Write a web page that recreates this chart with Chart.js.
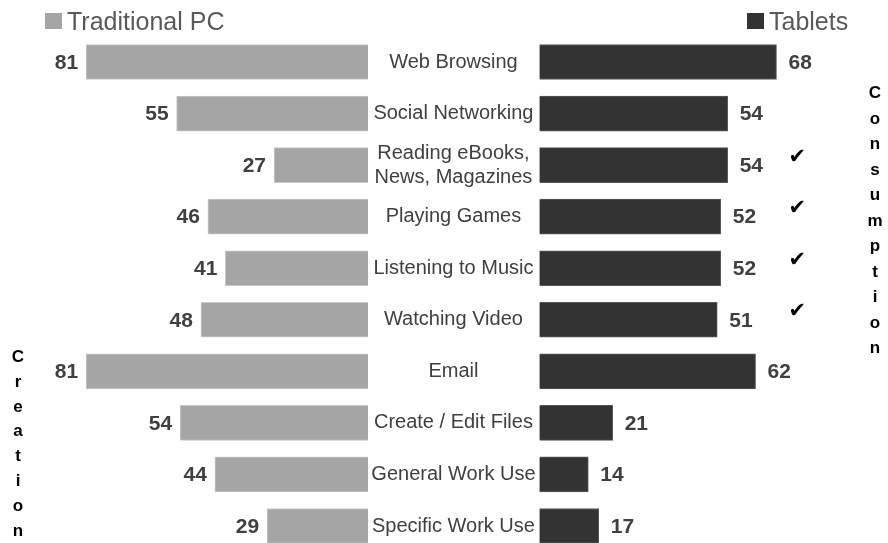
<!DOCTYPE html>
<html>
<head>
<meta charset="utf-8">
<title>Traditional PC vs Tablets</title>
<script src="https://cdn.jsdelivr.net/npm/chart.js@4/dist/chart.umd.min.js"></script>
<style>
  html, body { margin: 0; padding: 0; background: #ffffff; overflow: hidden; }
  #wrap { position: relative; width: 888px; height: 543px; }
  canvas { position: absolute; top: 0; }
  #pcChart { left: 0; }
  #tabletChart { left: 368px; }
</style>
</head>
<body>
<div id="wrap">
  <canvas id="pcChart" width="368" height="543"></canvas>
  <canvas id="tabletChart" width="520" height="543"></canvas>
</div>
<script>
// Activities, top to bottom
const categories = [
  'Web Browsing',
  'Social Networking',
  ['Reading eBooks,', 'News, Magazines'],
  'Playing Games',
  'Listening to Music',
  'Watching Video',
  'Email',
  'Create / Edit Files',
  'General Work Use',
  'Specific Work Use'
];
// Share of users per device (%)
const pcValues     = [81, 55, 27, 46, 41, 48, 81, 54, 44, 29];
const tabletValues = [68, 54, 54, 52, 52, 51, 62, 21, 14, 17];
const seriesNames  = ['Traditional PC', 'Tablets'];
// Rows ticked as consumption activities
const tickedRows   = [2, 3, 4, 5];
const sideNotes    = { left: 'Creation', right: 'Consumption' };

const FONT = '"Liberation Sans", Arial, Helvetica, sans-serif';
Chart.defaults.font.family = FONT;

// Bold value numbers next to the end of each bar
const valueLabels = {
  id: 'valueLabels',
  afterDatasetsDraw(chart, args, opts) {
    const { ctx } = chart;
    const meta = chart.getDatasetMeta(0);
    const data = chart.data.datasets[0].data;
    ctx.save();
    ctx.font = 'bold 21px ' + FONT;
    ctx.fillStyle = '#404040';
    ctx.textBaseline = 'middle';
    meta.data.forEach((bar, i) => {
      if (opts.side === 'left') {
        ctx.textAlign = 'right';
        ctx.fillText(String(data[i]), bar.x - 8, bar.y + 1);
      } else {
        ctx.textAlign = 'left';
        ctx.fillText(String(data[i]), bar.x + 12, bar.y + 1);
      }
    });
    ctx.restore();
  }
};

// Square swatch + series name at the top corner
const sideLegend = {
  id: 'sideLegend',
  afterDraw(chart, args, opts) {
    const { ctx } = chart;
    const ds = chart.data.datasets[0];
    ctx.save();
    ctx.fillStyle = ds.backgroundColor;
    ctx.fillRect(opts.x, 13, 17, 16);
    ctx.font = '25px ' + FONT;
    ctx.fillStyle = '#595959';
    ctx.textAlign = 'left';
    ctx.textBaseline = 'alphabetic';
    ctx.fillText(ds.label, opts.x + 22, 30);
    ctx.restore();
  }
};

// Word written downwards, one letter per line
const stackedWord = {
  id: 'stackedWord',
  afterDraw(chart, args, opts) {
    const { ctx } = chart;
    ctx.save();
    ctx.font = 'bold 17px ' + FONT;
    ctx.fillStyle = '#000000';
    ctx.textAlign = 'center';
    ctx.textBaseline = 'alphabetic';
    [...opts.text].forEach((ch, i) => {
      ctx.fillText(ch, opts.x, opts.y + i * opts.step);
    });
    ctx.restore();
  }
};

// Check marks beside selected tablet rows
const rowTicks = {
  id: 'rowTicks',
  afterDraw(chart, args, opts) {
    if (!opts.rows) return;
    const { ctx } = chart;
    const xs = chart.scales.x, ys = chart.scales.y;
    ctx.save();
    ctx.font = 'bold 21px "DejaVu Sans", sans-serif';
    ctx.fillStyle = '#000000';
    ctx.textAlign = 'center';
    ctx.textBaseline = 'middle';
    opts.rows.forEach(r => {
      ctx.fillText('\u2714', xs.getPixelForValue(opts.at), ys.getPixelForValue(r) - 8);
    });
    ctx.restore();
  }
};

const common = {
  indexAxis: 'y',
  responsive: false,
  animation: false,
  devicePixelRatio: 1,
  events: [],
  plugins: { legend: { display: false }, tooltip: { enabled: false } }
};

// Left half: Traditional PC, growing leftwards
new Chart(document.getElementById('pcChart'), {
  type: 'bar',
  data: {
    labels: categories,
    datasets: [{
      label: seriesNames[0],
      data: pcValues,
      backgroundColor: '#a5a5a5',
      borderColor: '#c9c9c9',
      borderWidth: 1,
      barThickness: 35,
      clip: false
    }]
  },
  options: {
    ...common,
    layout: { padding: { left: 20, right: 0, top: 62, bottom: 17 } },
    scales: {
      x: { type: 'linear', reverse: true, min: 0, max: 100, display: false },
      y: { offset: false, display: false }
    },
    plugins: {
      ...common.plugins,
      valueLabels: { side: 'left' },
      sideLegend: { x: 45 },
      stackedWord: { text: sideNotes.left, x: 18, y: 362, step: 24.8 }
    }
  },
  plugins: [valueLabels, sideLegend, stackedWord]
});

// Right half: Tablets, with the activity names in the middle column
new Chart(document.getElementById('tabletChart'), {
  type: 'bar',
  data: {
    labels: categories,
    datasets: [{
      label: seriesNames[1],
      data: tabletValues,
      backgroundColor: '#333333',
      borderColor: '#5a5a5a',
      borderWidth: 1,
      barThickness: 35,
      clip: false
    }]
  },
  options: {
    ...common,
    layout: { padding: { left: 0, right: 0, top: 62, bottom: 17 } },
    scales: {
      x: { type: 'linear', min: 0, max: 100, display: false },
      y: {
        offset: false,
        grid: { display: false, drawTicks: false, tickLength: 0 },
        border: { display: false },
        ticks: {
          autoSkip: false,
          crossAlign: 'center',
          padding: 4,
          color: '#404040',
          font: { size: 20, lineHeight: 1.2 }
        },
        afterFit(scale) { scale.width = 171.5; }
      }
    },
    plugins: {
      ...common.plugins,
      valueLabels: { side: 'right' },
      sideLegend: { x: 379 },
      stackedWord: { text: sideNotes.right, x: 507, y: 98, step: 25.5 },
      rowTicks: { rows: tickedRows, at: 74 }
    }
  },
  plugins: [valueLabels, sideLegend, stackedWord, rowTicks]
});
</script>
</body>
</html>
